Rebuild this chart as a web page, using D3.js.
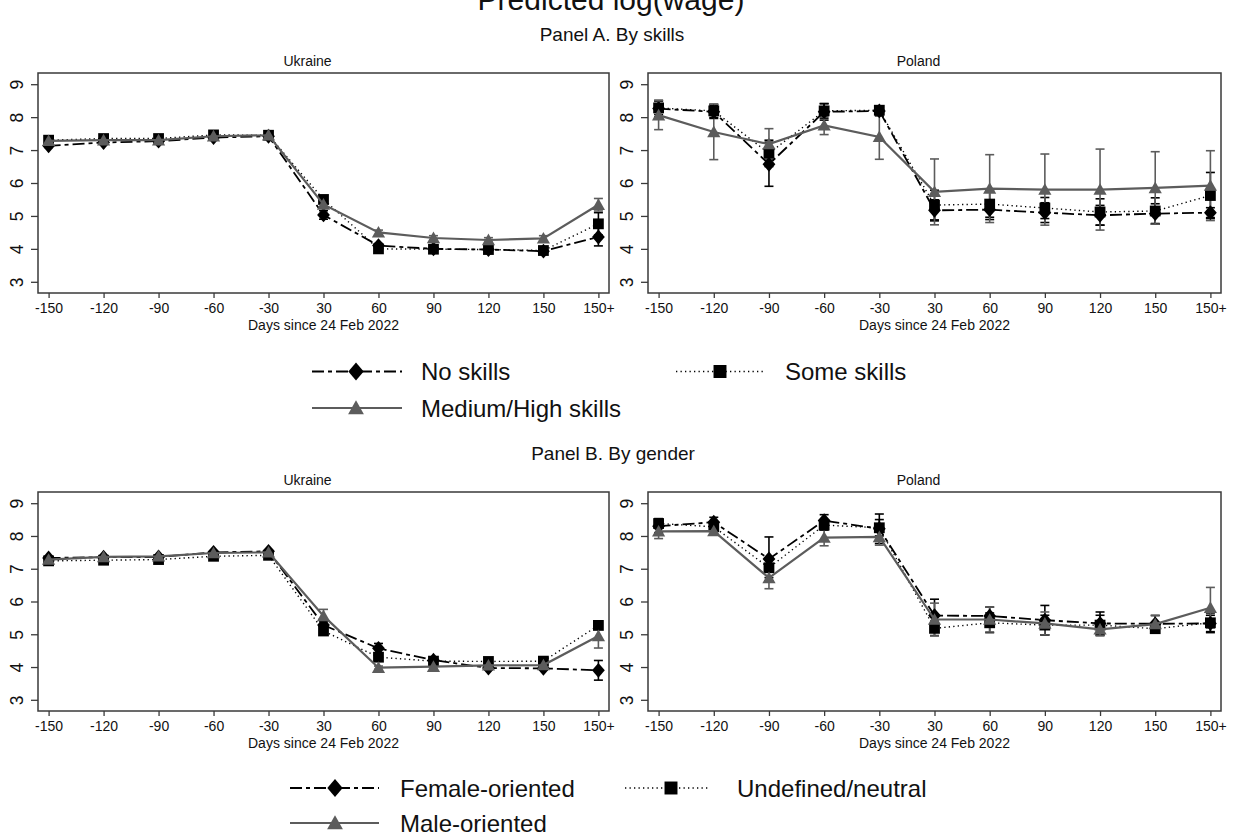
<!DOCTYPE html>
<html>
<head>
<meta charset="utf-8">
<script src="https://cdn.jsdelivr.net/npm/d3@7"></script>
<style>
  html, body { margin: 0; padding: 0; background: #fff; }
  svg { display: block; font-family: "Liberation Sans", Arial, Helvetica, sans-serif; }
</style>
</head>
<body>
<svg id="chart" width="1235" height="839"></svg>
<script>
// ---------------- DATA ----------------
const categories = ["-150", "-120", "-90", "-60", "-30", "30", "60", "90", "120", "150", "150+"];
const yTicks = [3, 4, 5, 6, 7, 8, 9];

// Panel A, Ukraine
const uaNoSkills     = [7.13, 7.23, 7.27, 7.38, 7.42, 5.03, 4.10, 4.00, 3.98, 3.93, 4.36];
const uaNoSkillsCi   = [0.05, 0.05, 0.05, 0.05, 0.05, 0.13, 0.06, 0.05, 0.05, 0.05, 0.27];
const uaSomeSkills   = [7.30, 7.35, 7.35, 7.46, 7.45, 5.50, 4.00, 3.99, 3.98, 3.95, 4.76];
const uaSomeSkillsCi = [0.05, 0.05, 0.05, 0.05, 0.05, 0.08, 0.05, 0.05, 0.05, 0.05, 0.34];
const uaMedSkills    = [7.28, 7.30, 7.30, 7.42, 7.45, 5.35, 4.50, 4.33, 4.27, 4.32, 5.34];
const uaMedSkillsCi  = [0.05, 0.05, 0.05, 0.05, 0.05, 0.10, 0.07, 0.07, 0.07, 0.08, 0.19];

// Panel A, Poland
const plNoSkills     = [8.26, 8.16, 6.57, 8.16, 8.19, 5.17, 5.19, 5.10, 5.02, 5.07, 5.10];
const plNoSkillsCi   = [0.25, 0.20, 0.67, 0.25, 0.15, 0.32, 0.30, 0.30, 0.30, 0.30, 0.15];
const plSomeSkills   = [8.28, 8.19, 6.90, 8.19, 8.21, 5.33, 5.36, 5.24, 5.12, 5.15, 5.62];
const plSomeSkillsCi = [0.20, 0.20, 0.40, 0.22, 0.12, 0.45, 0.40, 0.32, 0.40, 0.40, 0.70];
const plMedSkills    = [8.06, 7.55, 7.18, 7.75, 7.40, 5.73, 5.83, 5.80, 5.80, 5.85, 5.92];
const plMedSkillsCi  = [0.44, 0.84, 0.47, 0.28, 0.68, 1.00, 1.03, 1.08, 1.23, 1.10, 1.06];

// Panel B, Ukraine
const uaFemale       = [7.33, 7.35, 7.36, 7.50, 7.53, 5.28, 4.57, 4.21, 3.97, 3.96, 3.90];
const uaFemaleCi     = [0.04, 0.04, 0.04, 0.05, 0.05, 0.12, 0.15, 0.08, 0.05, 0.05, 0.30];
const uaNeutral      = [7.24, 7.26, 7.28, 7.38, 7.41, 5.10, 4.30, 4.18, 4.17, 4.18, 5.27];
const uaNeutralCi    = [0.04, 0.04, 0.04, 0.04, 0.04, 0.08, 0.10, 0.05, 0.05, 0.05, 0.08];
const uaMale         = [7.28, 7.36, 7.38, 7.48, 7.50, 5.56, 3.98, 4.01, 4.05, 4.06, 4.95];
const uaMaleCi       = [0.04, 0.04, 0.04, 0.04, 0.04, 0.20, 0.05, 0.05, 0.05, 0.05, 0.37];

// Panel B, Poland
const plFemale       = [8.30, 8.42, 7.30, 8.47, 8.22, 5.57, 5.56, 5.43, 5.33, 5.32, 5.33];
const plFemaleCi     = [0.20, 0.15, 0.67, 0.18, 0.45, 0.50, 0.27, 0.45, 0.35, 0.25, 0.25];
const plNeutral      = [8.38, 8.28, 7.03, 8.33, 8.25, 5.18, 5.35, 5.28, 5.28, 5.17, 5.35];
const plNeutralCi    = [0.15, 0.10, 0.30, 0.15, 0.25, 0.22, 0.30, 0.30, 0.30, 0.10, 0.30];
const plMale         = [8.14, 8.15, 6.72, 7.95, 7.97, 5.45, 5.45, 5.33, 5.15, 5.31, 5.81];
const plMaleCi       = [0.22, 0.10, 0.33, 0.25, 0.25, 0.50, 0.38, 0.35, 0.20, 0.27, 0.62];

const mainTitle = "Predicted log(wage)";
const panelATitle = "Panel A. By skills";
const panelBTitle = "Panel B. By gender";
const xAxisTitle = "Days since 24 Feb 2022";
const legendA = ["No skills", "Some skills", "Medium/High skills"];
const legendB = ["Female-oriented", "Undefined/neutral", "Male-oriented"];

// ---------------- STYLES ----------------
const styles = {
  diamond:  { color: "#000000", dash: "12,4,4,4", width: 1.8 },
  square:   { color: "#000000", dash: "1.3,3.2", width: 1.4 },
  triangle: { color: "#5c5c5c", dash: null,       width: 2.2 }
};
const FONT = '"Liberation Sans", Arial, Helvetica, sans-serif';

const svg = d3.select("#chart");
svg.append("rect").attr("width", 1235).attr("height", 839).attr("fill", "#fff");

function markerPath(shape, scale) {
  const s = scale || 1;
  if (shape === "diamond") {
    const w = 6.4 * s, h = 7.4 * s;
    return `M0,${-h}L${w},0L0,${h}L${-w},0Z`;
  }
  if (shape === "square") {
    const a = 5.4 * s;
    return `M${-a},${-a}H${a}V${a}H${-a}Z`;
  }
  // triangle
  const w = 6.6 * s, h = 5.8 * s;
  return `M0,${-h * 1.1}L${w},${h * 0.9}L${-w},${h * 0.9}Z`;
}

function drawPanel(frame, title, seriesList) {
  const g = svg.append("g");
  const padX = 10.6, padY = 11.2;
  const x = d3.scalePoint().domain(categories).range([frame.x0 + padX, frame.x1 - padX]);
  const y = d3.scaleLinear().domain([3, 9]).range([frame.y1 - padY, frame.y0 + padY]);

  // frame
  g.append("rect")
    .attr("x", frame.x0).attr("y", frame.y0)
    .attr("width", frame.x1 - frame.x0).attr("height", frame.y1 - frame.y0)
    .attr("fill", "none").attr("stroke", "#3a3a3a").attr("stroke-width", 1.5);

  // y axis
  const ya = g.append("g").attr("transform", `translate(${frame.x0},0)`)
    .call(d3.axisLeft(y).tickValues(yTicks).tickSize(7).tickFormat(d3.format("d")));
  ya.select(".domain").remove();
  ya.selectAll(".tick line").attr("stroke", "#3a3a3a").attr("stroke-width", 1.3);
  ya.selectAll(".tick text")
    .attr("x", null).attr("dy", "0.36em")
    .attr("transform", "translate(-21.5,0) rotate(-90)")
    .attr("text-anchor", "middle")
    .attr("font-family", FONT).attr("font-size", 17.5).attr("fill", "#111");

  // x axis
  const xa = g.append("g").attr("transform", `translate(0,${frame.y1})`)
    .call(d3.axisBottom(x).tickSize(5));
  xa.select(".domain").remove();
  xa.selectAll(".tick line").attr("stroke", "#3a3a3a").attr("stroke-width", 1.3);
  xa.selectAll(".tick text")
    .attr("y", 10).attr("dy", "0.71em")
    .attr("font-family", FONT).attr("font-size", 14).attr("fill", "#111");

  // axis title
  g.append("text")
    .attr("x", (frame.x0 + frame.x1) / 2).attr("y", frame.y1 + 37)
    .attr("text-anchor", "middle").attr("font-family", FONT).attr("font-size", 14).attr("fill", "#111")
    .text(xAxisTitle);

  // subtitle
  g.append("text")
    .attr("x", (frame.x0 + frame.x1) / 2 - 16).attr("y", frame.y0 - 7)
    .attr("text-anchor", "middle").attr("font-family", FONT).attr("font-size", 14).attr("fill", "#111")
    .text(title);

  const plot = g.append("g");
  // CIs
  seriesList.forEach(s => {
    const st = styles[s.shape];
    const capW = 4.5;
    const cg = plot.append("g").attr("stroke", st.color).attr("stroke-width", 1.6).attr("fill", "none");
    categories.forEach((c, i) => {
      const cx = x(c), lo = y(s.values[i] - s.ci[i]), hi = y(s.values[i] + s.ci[i]);
      cg.append("line").attr("x1", cx).attr("x2", cx).attr("y1", lo).attr("y2", hi);
      cg.append("line").attr("x1", cx - capW).attr("x2", cx + capW).attr("y1", lo).attr("y2", lo);
      cg.append("line").attr("x1", cx - capW).attr("x2", cx + capW).attr("y1", hi).attr("y2", hi);
    });
  });
  // lines + markers
  seriesList.forEach(s => {
    const st = styles[s.shape];
    const line = d3.line().x((d, i) => x(categories[i])).y(d => y(d));
    plot.append("path").datum(s.values)
      .attr("d", line).attr("fill", "none")
      .attr("stroke", st.color).attr("stroke-width", st.width)
      .attr("stroke-dasharray", st.dash);
    plot.selectAll(null).data(s.values).enter().append("path")
      .attr("transform", (d, i) => `translate(${x(categories[i])},${y(d)})`)
      .attr("d", markerPath(s.shape, 1))
      .attr("fill", st.color);
  });
}

function drawLegendItem(x0, x1, mx, ty, shape, label, tx) {
  const st = styles[shape];
  const g = svg.append("g");
  g.append("line").attr("x1", x0).attr("x2", x1).attr("y1", ty).attr("y2", ty)
    .attr("stroke", st.color).attr("stroke-width", st.width).attr("stroke-dasharray", st.dash);
  g.append("path").attr("transform", `translate(${mx},${ty})`)
    .attr("d", markerPath(shape, 1.2)).attr("fill", st.color);
  g.append("text").attr("x", tx).attr("y", ty + 8.5)
    .attr("font-family", FONT).attr("font-size", 24).attr("fill", "#111").text(label);
}

// main title (cut off at the top, as in the source image)
svg.append("text").attr("x", 611).attr("y", 10).attr("text-anchor", "middle")
  .attr("font-family", FONT).attr("font-size", 30).attr("fill", "#111").text(mainTitle);

// panel titles
svg.append("text").attr("x", 612).attr("y", 40.5).attr("text-anchor", "middle")
  .attr("font-family", FONT).attr("font-size", 19).attr("fill", "#111").text(panelATitle);
svg.append("text").attr("x", 613).attr("y", 459.5).attr("text-anchor", "middle")
  .attr("font-family", FONT).attr("font-size", 19).attr("fill", "#111").text(panelBTitle);

drawPanel({ x0: 38, x1: 609, y0: 73, y1: 293 }, "Ukraine", [
  { shape: "diamond", values: uaNoSkills, ci: uaNoSkillsCi },
  { shape: "square", values: uaSomeSkills, ci: uaSomeSkillsCi },
  { shape: "triangle", values: uaMedSkills, ci: uaMedSkillsCi }
]);
drawPanel({ x0: 648, x1: 1221, y0: 73, y1: 293 }, "Poland", [
  { shape: "diamond", values: plNoSkills, ci: plNoSkillsCi },
  { shape: "square", values: plSomeSkills, ci: plSomeSkillsCi },
  { shape: "triangle", values: plMedSkills, ci: plMedSkillsCi }
]);
drawPanel({ x0: 38, x1: 609, y0: 492, y1: 711 }, "Ukraine", [
  { shape: "diamond", values: uaFemale, ci: uaFemaleCi },
  { shape: "square", values: uaNeutral, ci: uaNeutralCi },
  { shape: "triangle", values: uaMale, ci: uaMaleCi }
]);
drawPanel({ x0: 648, x1: 1221, y0: 492, y1: 711 }, "Poland", [
  { shape: "diamond", values: plFemale, ci: plFemaleCi },
  { shape: "square", values: plNeutral, ci: plNeutralCi },
  { shape: "triangle", values: plMale, ci: plMaleCi }
]);

// legends
drawLegendItem(312, 402, 356, 371.5, "diamond", legendA[0], 421);
drawLegendItem(676, 764, 720, 371.5, "square", legendA[1], 785);
drawLegendItem(312, 402, 356, 408, "triangle", legendA[2], 421);

drawLegendItem(290, 379, 335, 788, "diamond", legendB[0], 400);
drawLegendItem(625, 709, 671, 788, "square", legendB[1], 737);
drawLegendItem(290, 379, 335, 823, "triangle", legendB[2], 400);
</script>
</body>
</html>
